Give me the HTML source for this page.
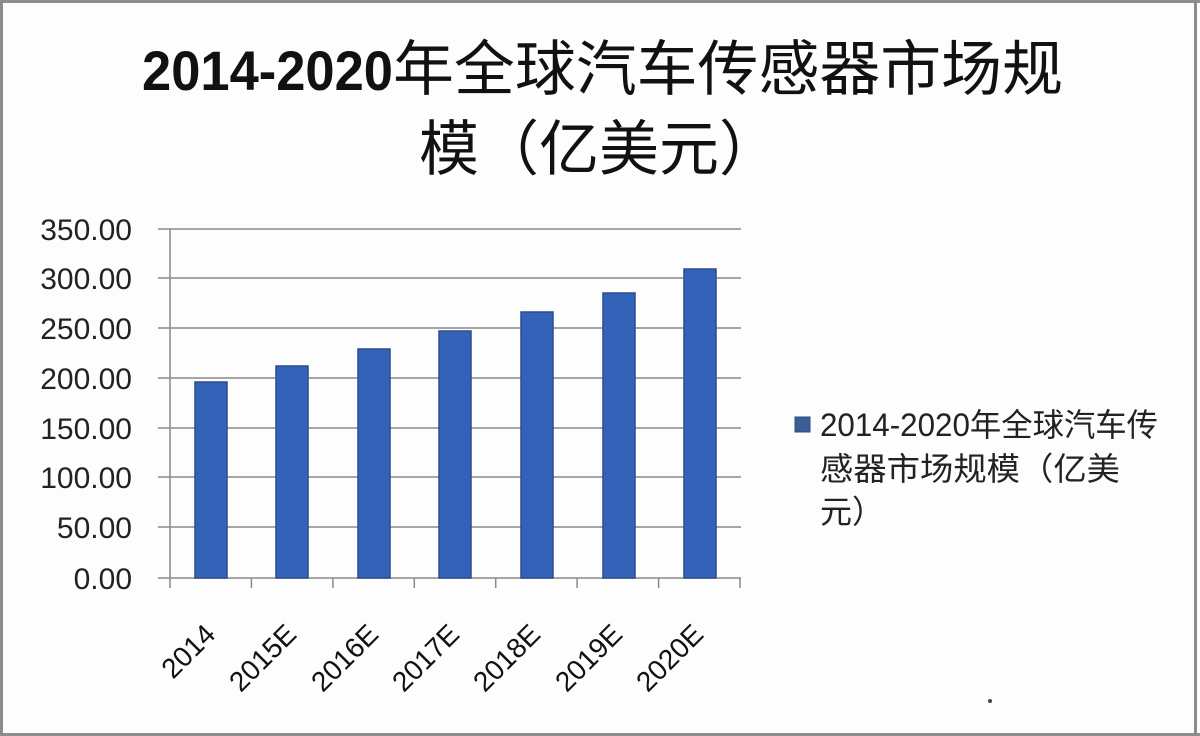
<!DOCTYPE html>
<html><head><meta charset="utf-8"><style>
html,body{margin:0;padding:0;background:#fff;}
svg{display:block;}
</style></head><body>
<svg width="1200" height="736" viewBox="0 0 1200 736" xmlns="http://www.w3.org/2000/svg">
<rect x="0" y="0" width="1200" height="736" fill="#fdfdfd"/>
<!-- frame -->
<rect x="0" y="0" width="1200" height="3" fill="#8c8c8c"/>
<rect x="0" y="0" width="3" height="736" fill="#8c8c8c"/>
<rect x="1194" y="0" width="3" height="736" fill="#8c8c8c"/>
<rect x="0" y="733" width="1200" height="3" fill="#8c8c8c"/>

<!-- title -->
<g font-family="'Liberation Sans','Noto Sans CJK SC',sans-serif" fill="#111">
<text x="142" y="90" font-size="56" font-weight="bold" textLength="251" lengthAdjust="spacingAndGlyphs">2014-2020</text>
<text x="393" y="90" font-size="60" font-family="'Noto Sans CJK SC',sans-serif" textLength="670" lengthAdjust="spacingAndGlyphs">年全球汽车传感器市场规</text>
<text x="419" y="170" font-size="60" font-family="'Noto Sans CJK SC',sans-serif">模（亿美元）</text>
</g>

<!-- gridlines -->
<g stroke="#8a8a8a" stroke-width="1.5">
<line x1="158" y1="229" x2="741" y2="229"/>
<line x1="158" y1="278" x2="741" y2="278"/>
<line x1="158" y1="328" x2="741" y2="328"/>
<line x1="158" y1="378" x2="741" y2="378"/>
<line x1="158" y1="428" x2="741" y2="428"/>
<line x1="158" y1="477" x2="741" y2="477"/>
<line x1="158" y1="527" x2="741" y2="527"/>
<line x1="158" y1="578" x2="741" y2="578"/>
<line x1="170" y1="229" x2="170" y2="588"/>
<line x1="251.4" y1="578" x2="251.4" y2="588"/>
<line x1="332.9" y1="578" x2="332.9" y2="588"/>
<line x1="414.3" y1="578" x2="414.3" y2="588"/>
<line x1="495.7" y1="578" x2="495.7" y2="588"/>
<line x1="577.1" y1="578" x2="577.1" y2="588"/>
<line x1="658.6" y1="578" x2="658.6" y2="588"/>
<line x1="740" y1="578" x2="740" y2="588"/>
</g>

<!-- y labels -->
<g font-family="'Liberation Sans',sans-serif" font-size="30" fill="#222" text-anchor="end">
<text x="132" y="240">350.00</text>
<text x="132" y="289">300.00</text>
<text x="132" y="339">250.00</text>
<text x="132" y="389">200.00</text>
<text x="132" y="439">150.00</text>
<text x="132" y="488">100.00</text>
<text x="132" y="538">50.00</text>
<text x="132" y="589">0.00</text>
</g>

<!-- bars -->
<g fill="#3462b8" stroke="#2b4d8c" stroke-width="1.5">
<rect x="195" y="382" width="32" height="196"/>
<rect x="276" y="366" width="32" height="212"/>
<rect x="358" y="349" width="32" height="229"/>
<rect x="439" y="331" width="32" height="247"/>
<rect x="521" y="312" width="32" height="266"/>
<rect x="603" y="293" width="32" height="285"/>
<rect x="684" y="269" width="32" height="309"/>
</g>

<!-- x labels -->
<g font-family="'Liberation Sans',sans-serif" font-size="28" fill="#111" text-anchor="end">
<text transform="translate(217,636) rotate(-45)">2014</text>
<text transform="translate(298,636) rotate(-45)">2015E</text>
<text transform="translate(380,636) rotate(-45)">2016E</text>
<text transform="translate(461,636) rotate(-45)">2017E</text>
<text transform="translate(542,636) rotate(-45)">2018E</text>
<text transform="translate(624,636) rotate(-45)">2019E</text>
<text transform="translate(705,636) rotate(-45)">2020E</text>
</g>

<!-- legend -->
<rect x="795" y="417" width="15" height="15" fill="#3a5f96" stroke="#2b4d7c" stroke-width="1"/>
<g font-family="'Liberation Sans','Noto Sans CJK SC',sans-serif" font-size="32" fill="#222">
<text x="820" y="436" textLength="338" lengthAdjust="spacingAndGlyphs">2014-2020年全球汽车传</text>
<text x="820" y="480" textLength="300" lengthAdjust="spacingAndGlyphs">感器市场规模（亿美</text>
<text x="820" y="523">元）</text>
</g>

<!-- faint watermark dot -->
<circle cx="990" cy="701" r="2" fill="#444"/>
</svg>
</body></html>
